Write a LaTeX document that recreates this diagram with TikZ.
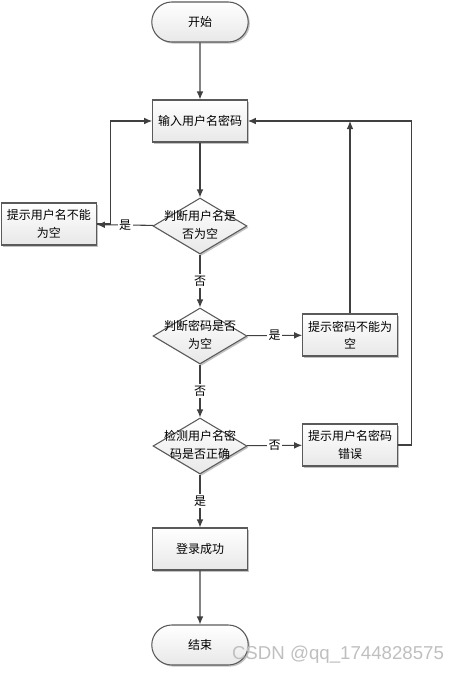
\documentclass[tikz,border=0pt]{standalone}
\usepackage{fontspec}
\setmainfont{Noto Sans CJK SC}
\newfontfamily\markfont{Liberation Sans}
\usepackage{tikz}
\usetikzlibrary{arrows,arrows.meta}
\usetikzlibrary{shapes,arrows}
\usetikzlibrary{shapes.geometric}
\usetikzlibrary{positioning}
\usetikzlibrary{shadows}
\tikzstyle{line} = [draw, -{Latex[length=6pt,width=5pt]}]
\definecolor{linegray}{HTML}{404040}
\definecolor{edgegray}{HTML}{5A5A5A}
\newcommand{\twolines}[2]{\begin{tabular}{@{}c@{}}\makebox[0pt]{#1}\\\makebox[0pt]{#2}\end{tabular}}
\tikzset{
    base/.style={draw=edgegray, line width=0.8pt, top color=white, bottom color=black!9,
        drop shadow={shadow xshift=1.2pt, shadow yshift=-1.2pt, fill=black!40, opacity=0.6},
        font=\fontsize{9}{13}\selectfont},
    terminal/.style={base, rounded rectangle, minimum width=79pt, minimum height=30pt},
    process/.style={base, rectangle, minimum width=71pt, minimum height=31.5pt, inner sep=3pt, align=center},
    decision/.style={base, diamond, minimum width=70.5pt, minimum height=42pt, inner sep=0pt},
    flow/.style={line, draw=linegray, line width=0.8pt},
    tag/.style={fill=white, inner sep=1pt, font=\fontsize{9}{10}\selectfont},
    watermark/.style={text=black!25, font=\markfont\fontsize{14}{16}\selectfont},
}

\begin{document}
\begin{tikzpicture}[x=0.75pt, y=-0.75pt]
    \useasboundingbox (0,0) rectangle (459,674);
    % main column
    \node[terminal] (start) at (200,22) {开始};
    \node[process] (input) at (200,121) {输入用户名密码};
    \node[decision] (chkuser) at (200,226) {\twolines{判断用户名是}{否为空}};
    \node[decision] (chkpwd) at (200,336) {\twolines{判断密码是否}{为空}};
    \node[decision] (chkall) at (200,446) {\twolines{检测用户名密}{码是否正确}};
    \node[process] (success) at (200,549) {登录成功};
    \node[terminal] (stop) at (200,645) {结束};
    % side boxes
    \node[process] (warnuser) at (49,224) {提示用户名不能\\为空};
    \node[process] (warnpwd) at (350,335) {提示密码不能为\\空};
    \node[process] (warnerr) at (350,445) {提示用户名密码\\错误};
    \node[watermark] (mark) at (338,655) {CSDN @qq\_1744828575};

    \path[flow] (start) -- (input);
    \path[flow] (input) -- (chkuser);
    \path[flow] (chkuser) -- node[tag] {是} (warnuser);
    \path[flow] (warnuser.east) -- ++(14,0) |- (input.west);
    \path[flow] (chkuser) -- node[tag] {否} (chkpwd);
    \path[flow] (chkpwd) -- node[tag] {是} (warnpwd);
    \path[flow] (warnpwd) -- (warnpwd |- input);
    \path[flow] (chkpwd) -- node[tag] {否} (chkall);
    \path[flow] (chkall) -- node[tag] {否} (warnerr);
    \path[flow] (warnerr.east) -- ++(14,0) |- (input.east);
    \path[flow] (chkall) -- node[tag] {是} (success);
    \path[flow] (success) -- (stop);
\end{tikzpicture}
\end{document}
